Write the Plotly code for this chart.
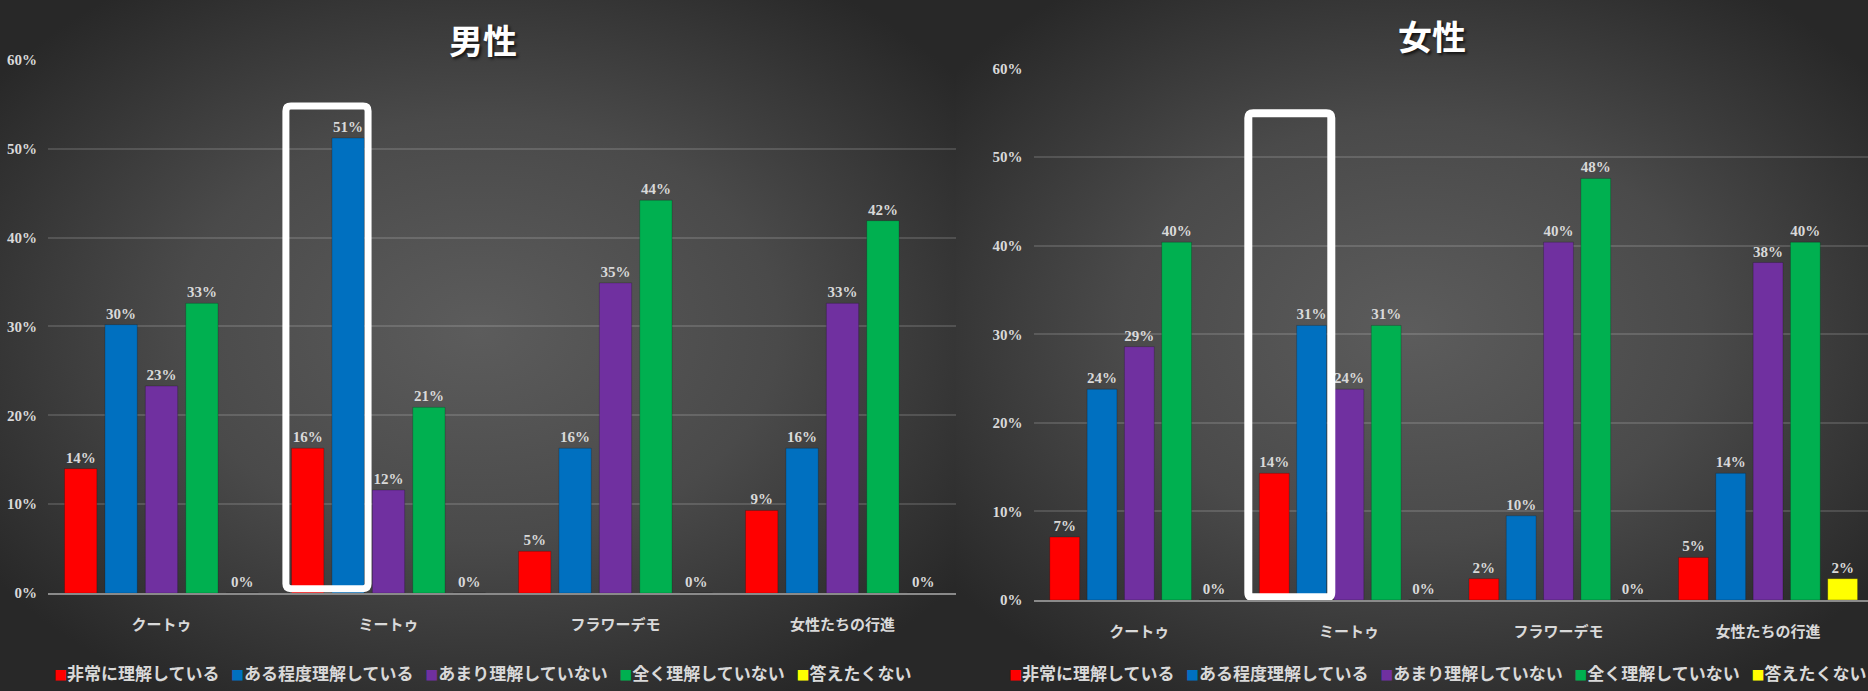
import base64
import plotly.graph_objects as go

# ---------------- data ----------------
categories = ["クートゥ", "ミートゥ", "フラワーデモ", "女性たちの行進"]
series_names = ["非常に理解している", "ある程度理解している", "あまり理解していない", "全く理解していない", "答えたくない"]
series_colors = ["#FF0000", "#0070C0", "#7030A0", "#00B050", "#FFFF00"]

male_very = [0.140, 0.163, 0.047, 0.093]
male_some = [0.302, 0.512, 0.163, 0.163]
male_little = [0.233, 0.116, 0.349, 0.326]
male_none = [0.326, 0.209, 0.442, 0.419]
male_noans = [0.0, 0.0, 0.0, 0.0]

female_very = [0.071, 0.143, 0.024, 0.048]
female_some = [0.238, 0.310, 0.095, 0.143]
female_little = [0.286, 0.238, 0.404, 0.381]
female_none = [0.404, 0.310, 0.476, 0.404]
female_noans = [0.0, 0.0, 0.0, 0.024]

ytick_vals = [0, 0.1, 0.2, 0.3, 0.4, 0.5, 0.6]
panel_titles = ["男性", "女性"]

male_series = [male_very, male_some, male_little, male_none, male_noans]
female_series = [female_very, female_some, female_little, female_none, female_noans]

W, H = 1868, 691
LABEL_COLOR = "#d9d9d9"
SERIF = "Liberation Serif, Times New Roman, serif"
CJK = "Noto Sans CJK JP, Noto Sans CJK SC, sans-serif"

fig = go.Figure()

for vals, name, col in zip(male_series, series_names, series_colors):
    fig.add_trace(go.Bar(
        x=categories, y=vals, name=name, marker_color=col,
        marker_line=dict(width=0.6, color="rgba(0,0,0,0.35)"),
        texttemplate="%{y:.0%}", textposition="outside", cliponaxis=False,
        constraintext="none",
        textfont=dict(family=SERIF, size=15, color=LABEL_COLOR, weight="bold"),
        xaxis="x", yaxis="y", showlegend=False, hoverinfo="skip"))

for vals, name, col in zip(female_series, series_names, series_colors):
    fig.add_trace(go.Bar(
        x=categories, y=vals, name=name, marker_color=col,
        marker_line=dict(width=0.6, color="rgba(0,0,0,0.35)"),
        texttemplate="%{y:.0%}", textposition="outside", cliponaxis=False,
        constraintext="none",
        textfont=dict(family=SERIF, size=15, color=LABEL_COLOR, weight="bold"),
        xaxis="x2", yaxis="y2", showlegend=False, hoverinfo="skip"))

# ---------------- background (two radial-gradient panels) ----------------
split = 956
PX, PY = 60, 40  # oversize so the picture always covers the whole page
SW, SH = W + 2 * PX, H + 2 * PY
svg = f'''<svg xmlns="http://www.w3.org/2000/svg" width="{SW}" height="{SH}" viewBox="0 0 {SW} {SH}" preserveAspectRatio="none">
<defs>
<radialGradient id="g1" gradientUnits="userSpaceOnUse" cx="{PX + 478}" cy="{PY + 330}" r="600"
  gradientTransform="translate({PX + 478} {PY + 330}) scale(1 0.72) translate({-(PX + 478)} {-(PY + 330)})">
<stop offset="0%" stop-color="#5c5c5c"/>
<stop offset="50%" stop-color="#4a4a4a"/>
<stop offset="100%" stop-color="#282828"/>
</radialGradient>
<radialGradient id="g2" gradientUnits="userSpaceOnUse" cx="{PX + 1412}" cy="{PY + 330}" r="580"
  gradientTransform="translate({PX + 1412} {PY + 330}) scale(1 0.74) translate({-(PX + 1412)} {-(PY + 330)})">
<stop offset="0%" stop-color="#5c5c5c"/>
<stop offset="50%" stop-color="#4a4a4a"/>
<stop offset="100%" stop-color="#282828"/>
</radialGradient>
</defs>
<rect x="0" y="0" width="{PX + split}" height="{SH}" fill="url(#g1)"/>
<rect x="{PX + split}" y="0" width="{SW - PX - split}" height="{SH}" fill="url(#g2)"/>
</svg>'''
bg_src = "data:image/svg+xml;base64," + base64.b64encode(svg.encode("utf-8")).decode("ascii")


def yaxis_style(domain, anchor):
    return dict(domain=domain, anchor=anchor, range=[0, 0.6], tickvals=ytick_vals, tickformat=".0%",
                showgrid=True, gridcolor="rgba(255,255,255,0.14)", gridwidth=1.5,
                zeroline=False, showline=False, ticks="", ticklabelstandoff=10,
                tickfont=dict(family=SERIF, size=15, color=LABEL_COLOR, weight="bold"),
                fixedrange=True)


def xaxis_style(domain, rng, anchor):
    return dict(domain=domain, anchor=anchor, range=rng, type="category", showgrid=False, zeroline=False,
                showline=True, linecolor="#8a8a8a", linewidth=2, ticks="",
                ticklabelstandoff=17,
                tickfont=dict(family=CJK, size=15, color=LABEL_COLOR, weight="bold"),
                fixedrange=True)


def rounded_rect(x0, x1, y0, y1, rx, ry):
    return (f"M{x0+rx},{y1} L{x1-rx},{y1} Q{x1},{y1} {x1},{y1-ry} "
            f"L{x1},{y0+ry} Q{x1},{y0} {x1-rx},{y0} L{x0+rx},{y0} "
            f"Q{x0},{y0} {x0},{y0+ry} L{x0},{y1-ry} Q{x0},{y1} {x0+rx},{y1} Z")


legend_texts = []
for name, col in zip(series_names, series_colors):
    legend_texts.append(f"<span style='color:{col};font-size:13px'>■</span>{name}")
legend_str = "\u00a0\u00a0\u00a0".join(legend_texts)

fig.update_layout(
    width=W, height=H,
    margin=dict(l=0, r=0, t=0, b=0, pad=0),
    paper_bgcolor="#2a2a2a", plot_bgcolor="rgba(0,0,0,0)",
    barmode="group", bargap=0.11, bargroupgap=0.2,
    xaxis=xaxis_style([48 / W, 956 / W], [-0.5, 3.5], "y"),
    yaxis=yaxis_style([1 - 599 / H, 1 - 53 / H], "x"),
    xaxis2=xaxis_style([1033.5 / W, 1.0], [-0.505, 3.477], "y2"),
    yaxis2=yaxis_style([1 - 606 / H, 1 - 62 / H], "x2"),
    images=[dict(source=bg_src, xref="paper", yref="paper",
                 x=-PX / W, y=1 + PY / H, sizex=SW / W, sizey=SH / H,
                 sizing="stretch", xanchor="left", yanchor="top", layer="below")],
    shapes=[
        dict(type="path", xref="x", yref="y", layer="above",
             path=rounded_rect(0.548, 0.910, 0.005, 0.548, 0.022, 0.0055),
             line=dict(color="white", width=7)),
        dict(type="path", xref="x2", yref="y2", layer="above",
             path=rounded_rect(0.520, 0.916, 0.003, 0.5496, 0.024, 0.0055),
             line=dict(color="white", width=8)),
    ],
    annotations=[
        dict(text=panel_titles[0], xref="paper", yref="paper", x=483 / W, y=1 - 32 / H,
             showarrow=False, xanchor="center", yanchor="middle",
             font=dict(family=CJK, size=34, color="white", weight="bold",
                       shadow="2px 2px 3px rgba(0,0,0,0.7)")),
        dict(text=panel_titles[1], xref="paper", yref="paper", x=1432 / W, y=1 - 28 / H,
             showarrow=False, xanchor="center", yanchor="middle",
             font=dict(family=CJK, size=34, color="white", weight="bold",
                       shadow="2px 2px 3px rgba(0,0,0,0.7)")),
        dict(text=legend_str, xref="paper", yref="paper", x=482.5 / W, y=1 - 680 / H,
             showarrow=False, xanchor="center", yanchor="middle",
             font=dict(family=CJK, size=17, color=LABEL_COLOR, weight="bold")),
        dict(text=legend_str, xref="paper", yref="paper", x=1437 / W, y=1 - 680 / H,
             showarrow=False, xanchor="center", yanchor="middle",
             font=dict(family=CJK, size=17, color=LABEL_COLOR, weight="bold")),
    ],
)

fig.write_html("out.html")
